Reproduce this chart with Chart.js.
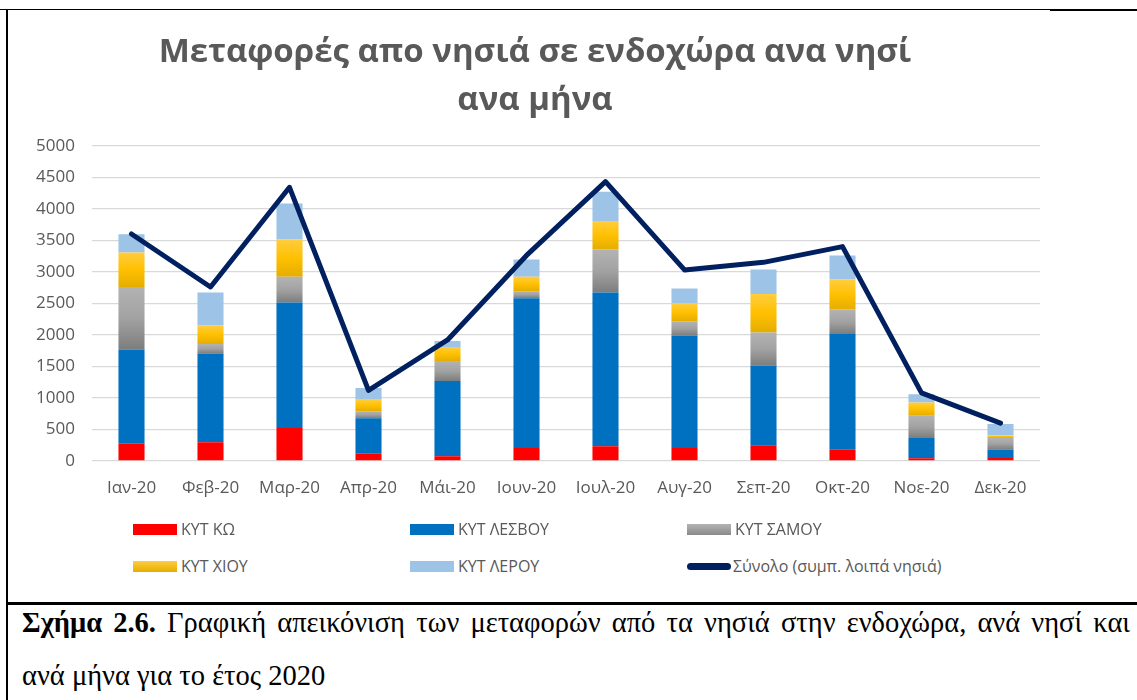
<!DOCTYPE html>
<html lang="el">
<head>
<meta charset="utf-8">
<title>Μεταφορές απο νησιά σε ενδοχώρα</title>
<script src="https://cdn.jsdelivr.net/npm/chart.js@4.4.1/dist/chart.umd.min.js"></script>
<style>
    body { margin: 0; background: #fff; }
    #page { position: relative; width: 1137px; height: 700px; overflow: hidden; background: #fff; }
    #chartCanvas { position: absolute; left: 8px; top: 10px; }
    .rule { position: absolute; background: #000; }
    .legend-item { position: absolute; display: flex; align-items: center; height: 20px;
        font-family: 'Open Sans', sans-serif; font-size: 16px; color: #595959; white-space: nowrap; }
    .legend-swatch { width: 44px; height: 11px; margin-right: 4px; }
    .legend-line { width: 44px; height: 7px; border-radius: 4px; margin-right: 2px; }
    .caption { position: absolute; left: 22px; width: 1108px; font-family: 'Liberation Serif', 'Times New Roman', serif;
        font-size: 28.5px; color: #000; white-space: nowrap; }
    #caption1 { top: 607px; text-align: justify; text-align-last: justify; }
    #caption2 { top: 660px; }
</style>
</head>
<body>
<div id="page">
    <canvas id="chartCanvas" width="1129" height="510"></canvas>

    <div class="rule" style="left:0; top:9px; width:1050px; height:1px;"></div>
    <div class="rule" style="left:1050px; top:9px; width:87px; height:2px;"></div>
    <div class="rule" style="left:6px; top:9px; width:2px; height:691px;"></div>
    <div class="rule" style="left:6px; top:602px; width:1131px; height:3px;"></div>

    <div id="legend"></div>

    <div class="caption" id="caption1"><b>Σχήμα 2.6.</b> Γραφική απεικόνιση των μεταφορών από τα νησιά στην ενδοχώρα, ανά νησί και</div>
    <div class="caption" id="caption2">ανά μήνα για το έτος 2020</div>
</div>

<script>
// Values
const months = ['Ιαν-20', 'Φεβ-20', 'Μαρ-20', 'Απρ-20', 'Μάι-20', 'Ιουν-20', 'Ιουλ-20', 'Αυγ-20', 'Σεπ-20', 'Οκτ-20', 'Νοε-20', 'Δεκ-20'];
const kos    = [275, 296, 524, 116, 74, 206, 233, 206, 249, 180, 42, 48];
const lesvos = [1492, 1407, 1989, 561, 1196, 2376, 2438, 1783, 1264, 1835, 323, 132];
const samos  = [994, 154, 407, 111, 317, 111, 683, 228, 524, 387, 354, 185];
const chios  = [545, 291, 593, 185, 222, 227, 450, 280, 613, 476, 207, 42];
const leros  = [291, 523, 571, 186, 95, 275, 465, 238, 386, 381, 132, 180];
const total  = [3600, 2760, 4340, 1120, 1920, 3260, 4430, 3030, 3150, 3400, 1080, 600];
const yMin = 0;
const yMax = 5000;
const yStep = 500;

const stackOrder = [kos, lesvos, samos, chios, leros];

// Excel style vertical gradient inside one stacked segment
function segmentGradient(stops, fallback) {
    return function(ctx) {
        const chart = ctx.chart;
        const yScale = chart.scales.y;
        if (!chart.chartArea || !yScale || ctx.dataIndex === undefined) return fallback;
        const i = ctx.dataIndex;
        let bottom = 0;
        for (let d = 0; d < ctx.datasetIndex; d++) bottom += stackOrder[d][i];
        const top = bottom + stackOrder[ctx.datasetIndex][i];
        const y0 = yScale.getPixelForValue(top);
        const y1 = yScale.getPixelForValue(bottom);
        if (!isFinite(y0) || !isFinite(y1) || y0 === y1) return fallback;
        const g = chart.ctx.createLinearGradient(0, y0, 0, y1);
        stops.forEach(s => g.addColorStop(s[0], s[1]));
        return g;
    };
}

const grayStops = [[0, '#b3b3b3'], [0.5, '#a2a2a2'], [1, '#7d7d7d']];
const yellowStops = [[0, '#ffcd3f'], [0.5, '#ffc000'], [1, '#e5ad00']];

const ctx = document.getElementById('chartCanvas').getContext('2d');
const chart = new Chart(ctx, {
    type: 'bar',
    data: {
        labels: months,
        datasets: [
            { label: 'ΚΥΤ ΚΩ', data: kos, backgroundColor: '#ff0000', order: 1, stack: 'islands',
              legendSwatch: '#ff0000' },
            { label: 'ΚΥΤ ΛΕΣΒΟΥ', data: lesvos, backgroundColor: '#0070c0', order: 1, stack: 'islands',
              legendSwatch: '#0070c0' },
            { label: 'ΚΥΤ ΣΑΜΟΥ', data: samos, backgroundColor: segmentGradient(grayStops, '#a5a5a5'), order: 1, stack: 'islands',
              legendSwatch: 'linear-gradient(#b3b3b3, #8a8a8a)' },
            { label: 'ΚΥΤ ΧΙΟΥ', data: chios, backgroundColor: segmentGradient(yellowStops, '#ffc000'), order: 1, stack: 'islands',
              legendSwatch: 'linear-gradient(#ffcd3f, #e5ad00)' },
            { label: 'ΚΥΤ ΛΕΡΟΥ', data: leros, backgroundColor: '#9dc3e6', order: 1, stack: 'islands',
              legendSwatch: '#9dc3e6' },
            { type: 'line', label: 'Σύνολο (συμπ. λοιπά νησιά)', data: total, borderColor: '#002060',
              borderWidth: 5, pointRadius: 0, tension: 0, borderCapStyle: 'round', borderJoinStyle: 'round',
              order: 0, stack: 'total', legendSwatch: '#002060', isLine: true }
        ]
    },
    options: {
        responsive: false,
        animation: false,
        datasets: { bar: { barPercentage: 0.33, categoryPercentage: 1 } },
        layout: { padding: { left: 22, right: 97, top: 0, bottom: 0 } },
        plugins: {
            legend: { display: false },
            tooltip: { enabled: false },
            title: {
                display: true,
                text: ['Μεταφορές απο νησιά σε ενδοχώρα ανα νησί', 'ανα μήνα'],
                color: '#595959',
                font: { family: 'Open Sans', size: 33, weight: 'bold', lineHeight: 1.45 },
                padding: { top: 19, bottom: 21 }
            }
        },
        scales: {
            x: {
                stacked: true,
                grid: { display: false },
                border: { display: false },
                ticks: { color: '#595959', font: { family: 'Open Sans', size: 17 }, padding: 9, maxRotation: 0 },
                afterFit: function(scale) { scale.height = 59; }
            },
            y: {
                stacked: true,
                min: yMin,
                max: yMax,
                grid: { color: '#d9d9d9', lineWidth: 1.3, drawTicks: false },
                border: { display: false },
                ticks: { stepSize: yStep, color: '#595959', font: { family: 'Open Sans', size: 17 }, padding: 17,
                         callback: value => String(value) },
                afterFit: function(scale) { scale.width = 62; }
            }
        }
    }
});

// HTML legend laid out in three columns like the original
function buildLegend(chart) {
    const legend = document.getElementById('legend');
    const cols = [133, 410, 687];
    const rows = [519, 556];
    chart.data.datasets.forEach((ds, i) => {
        const item = document.createElement('div');
        item.className = 'legend-item';
        item.style.left = cols[i % 3] + 'px';
        item.style.top = rows[Math.floor(i / 3)] + 'px';
        const sw = document.createElement('span');
        sw.className = ds.isLine ? 'legend-line' : 'legend-swatch';
        sw.style.background = ds.legendSwatch;
        const text = document.createElement('span');
        text.textContent = ds.label;
        item.appendChild(sw);
        item.appendChild(text);
        legend.appendChild(item);
    });
}

buildLegend(chart);
</script>
</body>
</html>
